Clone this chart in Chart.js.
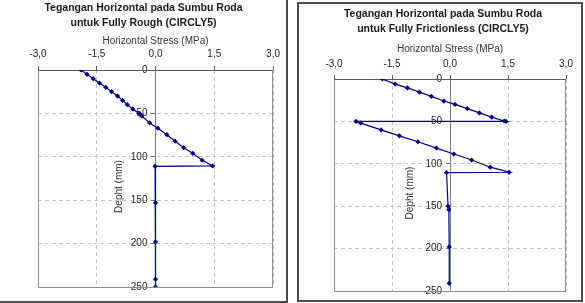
<!DOCTYPE html>
<html>
<head>
<meta charset="utf-8">
<script src="https://cdn.jsdelivr.net/npm/chart.js@4.4.1/dist/chart.umd.min.js"></script>
<style>
  body { margin: 0; background: #fff; width: 585px; height: 303px; overflow: hidden; position: relative; }
  .box { position: absolute; border: 2px solid #4a4a4a; background: #fff; }
  #boxRough { left: -10px; top: -10px; width: 294px; height: 309px; }
  #boxFric { left: 297px; top: 2px; width: 282px; height: 296px; }
  canvas { position: absolute; }
</style>
</head>
<body>
<div class="box" id="boxRough"><canvas id="rough" width="286" height="301" style="left:8px;top:8px;width:286px;height:301px"></canvas></div>
<div class="box" id="boxFric"><canvas id="fric" width="282" height="296" style="left:0;top:0;width:282px;height:296px"></canvas></div>
<script>
// Fully Rough (CIRCLY5)
var roughStress = [-1.90, -1.75, -1.59, -1.43, -1.27, -1.12, -0.97, -0.84, -0.72, -0.58, -0.42, -0.40, -0.35,
                   -0.15, 0.06, 0.29, 0.50, 0.72, 0.95, 1.19, 1.46, -0.01, 0.00, 0.00, 0.00, 0.00];
var roughDepth  = [0, 5, 10, 15, 20, 25, 30, 35, 40, 45, 50, 51, 53,
                   61, 67, 74.5, 82, 89.5, 96, 104, 110.5, 111, 153, 198, 241, 250];

// Fully Frictionless (CIRCLY5)
var fricStress = [-1.75, -1.42, -1.10, -0.79, -0.48, -0.16, 0.13, 0.45, 0.76, 1.08, 1.40, 1.45,
                  -2.43, -2.31, -1.78, -1.31, -0.83, -0.35, 0.10, 0.56, 1.04, 1.53,
                  -0.09, -0.05, -0.03, -0.02, -0.02];
var fricDepth  = [0, 6, 10.5, 15.5, 20.5, 26, 30, 35, 40, 45, 49.5, 50,
                  50, 52, 60, 67, 74, 81.5, 88.5, 95.5, 104, 110,
                  110.5, 150, 154, 198, 241];

var stressTicks = [-3.0, -1.5, 0.0, 1.5, 3.0];
var depthTicks = [0, 50, 100, 150, 200, 250];

var navy = '#000080';
var fontFam = 'Liberation Sans, Arial, sans-serif';

var plotBorder = {
  id: 'plotBorder',
  beforeDatasetsDraw: function(chart) {
    var a = chart.chartArea, c = chart.ctx;
    c.save();
    c.strokeStyle = '#8c8c8c';
    c.lineWidth = 1;
    c.strokeRect(a.left + 0.5, a.top + 0.5, a.right - a.left - 1, a.bottom - a.top);
    c.strokeStyle = '#5a5a5a';
    c.beginPath();
    c.moveTo(a.left, a.top + 0.5);
    c.lineTo(a.right, a.top + 0.5);
    c.stroke();
    c.restore();
  }
};

// centre the chart title on the whole box, not on the plot area
var titleCenter = {
  id: 'titleCenter',
  afterLayout: function(chart, args, opts) {
    var tb = chart.titleBlock;
    if (!tb) return;
    var w = tb.right - tb.left;
    tb.left = opts.center - w / 2;
    tb.right = tb.left + w;
  }
};

// y axis title, rotated to read bottom-to-top, left of the depth labels
var depthTitle = {
  id: 'depthTitle',
  afterDraw: function(chart, args, opts) {
    var a = chart.chartArea, c = chart.ctx;
    var x = chart.scales.x.getPixelForValue(0) - opts.offset;
    var y = (a.top + a.bottom) / 2 + 8;
    c.save();
    c.translate(x, y);
    c.rotate(-Math.PI / 2);
    c.fillStyle = '#333';
    c.font = '10px ' + fontFam;
    c.textAlign = 'center';
    c.textBaseline = 'middle';
    c.fillText('Depht (mm)', 0, 0);
    c.restore();
  }
};

function makeChart(id, title, stress, depth, lay) {
  var pts = stress.map(function(s, i) { return { x: s, y: depth[i] }; });
  var depthScale = function(extra) {
    var s = {
      type: 'linear',
      reverse: true,
      min: 0, max: 250,
      afterBuildTicks: function(sc) { sc.ticks = depthTicks.map(function(v) { return { value: v }; }); }
    };
    for (var k in extra) s[k] = extra[k];
    return s;
  };
  return new Chart(document.getElementById(id), {
    type: 'scatter',
    data: {
      datasets: [{
        data: pts,
        yAxisID: 'y',
        showLine: true,
        borderColor: navy,
        borderWidth: 1.2,
        backgroundColor: navy,
        pointStyle: 'rectRot',
        pointRadius: 2.6,
        pointBorderWidth: 0
      }]
    },
    options: {
      responsive: false,
      animation: false,
      layout: { padding: lay.padding },
      plugins: {
        legend: { display: false },
        tooltip: { enabled: false },
        title: {
          display: true,
          text: title,
          color: '#1a1a1a',
          font: { family: fontFam, size: 10.5, weight: 'bold', lineHeight: '15px' },
          padding: lay.titlePad
        },
        titleCenter: { center: lay.titleX },
        depthTitle: { offset: lay.yTitleOffset }
      },
      scales: {
        x: {
          type: 'linear',
          position: 'top',
          min: -3, max: 3,
          afterBuildTicks: function(s) { s.ticks = stressTicks.map(function(v) { return { value: v }; }); },
          ticks: {
            color: '#222',
            font: { family: fontFam, size: 10 },
            padding: lay.xTickPad,
            maxRotation: 0,
            callback: function(v) { return v.toFixed(1).replace('.', ','); }
          },
          grid: { color: '#c4c4c4', lineWidth: 1, tickLength: 4, tickColor: '#5a5a5a' },
          border: { display: false, dash: function(c) { return c.type === 'tick' ? [4, 3] : []; } },
          title: {
            display: true,
            text: 'Horizontal Stress (MPa)',
            color: '#333',
            font: { family: fontFam, size: 10 },
            padding: lay.axisTitlePad
          }
        },
        // depth axis line, grid and tick marks at stress = 0
        y: depthScale({
          position: { x: 0 },
          ticks: { display: false },
          grid: { color: '#c4c4c4', lineWidth: 1, tickLength: 4, tickColor: '#6a6a6a' },
          border: { display: true, color: '#7a7a7a', width: 1, dash: function(c) { return c.type === 'tick' ? [4, 3] : []; } }
        }),
        // depth labels, set a little left of the axis line
        yLab: depthScale({
          position: { x: -lay.labelShift },
          ticks: { color: '#222', font: { family: fontFam, size: 10 } },
          grid: { display: false },
          border: { display: false }
        })
      }
    },
    plugins: [plotBorder, titleCenter, depthTitle]
  });
}

makeChart('rough', ['Tegangan Horizontal pada Sumbu Roda', 'untuk Fully Rough (CIRCLY5)'],
  roughStress, roughDepth,
  { padding: { left: 38, right: 12, bottom: 14, top: 0 }, titlePad: { top: 0.5, bottom: 4.5 }, titleX: 143.5,
    axisTitlePad: { top: 0, bottom: -5 }, xTickPad: 6, labelShift: 0.205, yTitleOffset: 36 });

makeChart('fric', ['Tegangan Horizontal pada Sumbu Roda', 'untuk Fully Frictionless (CIRCLY5)'],
  fricStress, fricDepth,
  { padding: { left: 35, right: 15, bottom: 6, top: 0 }, titlePad: { top: 2.2, bottom: 6.8 }, titleX: 144,
    axisTitlePad: { top: 0, bottom: -2 }, xTickPad: 5, labelShift: 0.205, yTitleOffset: 40 });
</script>
</body>
</html>
